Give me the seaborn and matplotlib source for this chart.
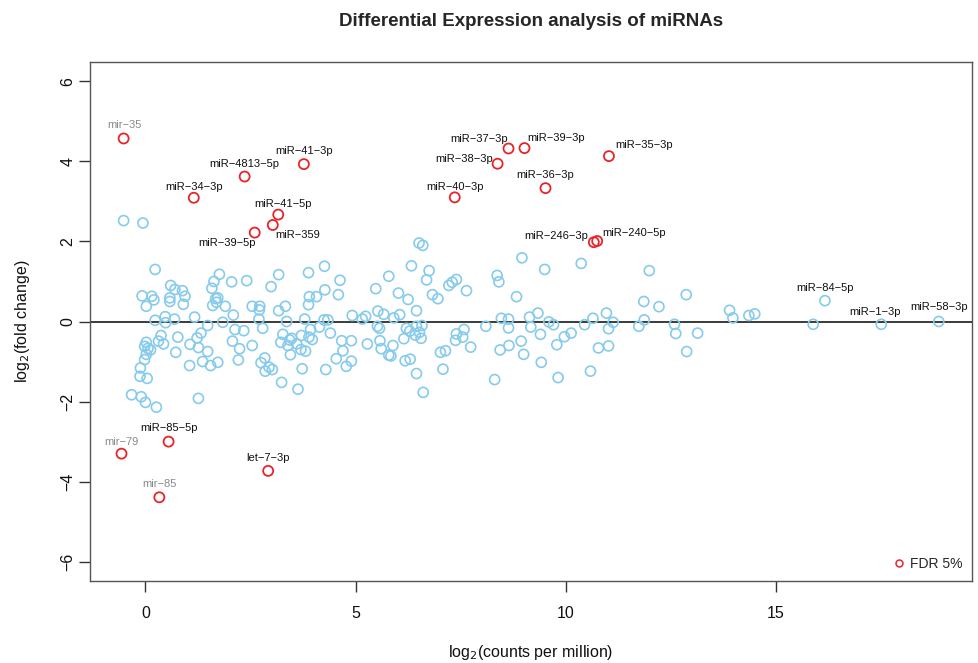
import numpy as np
import pandas as pd
import matplotlib
matplotlib.use("Agg")
import matplotlib.pyplot as plt
from matplotlib.lines import Line2D
import seaborn as sns

# significant miRNAs (FDR 5%)
sig_names = ["mir-35", "miR-41-3p", "miR-4813-5p", "miR-34-3p", "miR-41-5p", "miR-359",
             "miR-39-5p", "miR-37-3p", "miR-39-3p", "miR-38-3p", "miR-35-3p", "miR-36-3p",
             "miR-40-3p", "miR-246-3p", "miR-240-5p", "miR-85-5p", "mir-79", "let-7-3p", "mir-85"]
sig_logcpm = [-0.52, 3.77, 2.36, 1.15, 3.16, 3.03, 2.60, 8.64, 9.02, 8.38, 11.03, 9.52,
              7.36, 10.67, 10.75, 0.55, -0.57, 2.92, 0.33]
sig_logfc = [4.57, 3.93, 3.62, 3.09, 2.67, 2.41, 2.22, 4.32, 4.33, 3.94, 4.13, 3.33,
             3.10, 1.98, 2.01, -3.00, -3.30, -3.73, -4.39]

# labelled, not significant
lab_names = ["miR-84-5p", "miR-1-3p", "miR-58-3p"]
lab_logcpm = [16.17, 17.51, 18.88]
lab_logfc = [0.52, -0.07, 0.00]

# the rest of the miRNAs
other_logcpm = [
    -0.52, -0.06, 0.23, 1.76, 1.63, 2.05, 0.60, 0.70, 0.88, 1.58, -0.08, 0.15, 0.20, 0.58, 0.58,
    0.94, 0.90, 0.02, 1.67, 1.72, 1.69, 1.60, 1.90, 2.09, 0.47, 0.23, 0.48, 0.69, 1.17, 1.48,
    1.84, 2.13, 2.34, 0.37, 0.31, 0.43, 0.77, 1.32, 1.23, 1.06, 1.26, 1.48, 0.72, 0.02, -0.02,
    0.06, 0.12, 0.02, -0.02, -0.12, -0.13, 0.04, 1.05, 1.36, 1.55, 1.72, 2.07, 2.24, 2.21, -0.33,
    -0.10, 0.00, 0.26, 1.26,
    4.26, 3.88, 3.17, 2.41, 2.99, 4.63, 5.79, 4.27, 5.48, 3.90, 4.07, 4.59, 3.88, 2.54, 2.72,
    2.71, 3.33, 3.17, 2.70, 3.36, 3.79, 4.25, 4.34, 4.92, 5.24, 5.16, 5.53, 5.67, 5.52, 5.57,
    2.79, 3.27, 3.93, 4.14, 4.40, 3.71, 3.48, 3.43, 3.89, 3.97, 3.22, 3.60, 3.39, 2.54, 3.70,
    3.81, 3.45, 4.67, 4.90, 5.28, 4.70, 5.58, 5.61, 5.79, 4.54, 4.90, 4.78, 2.84, 2.75, 2.94,
    3.02, 2.85, 3.73, 4.29, 3.24, 3.63,
    6.51, 6.60, 8.96, 6.33, 6.75, 6.69, 8.37, 8.41, 7.40, 7.30, 7.22, 7.64, 6.02, 6.25, 6.83,
    6.96, 8.83, 6.45, 6.05, 5.91, 9.14, 8.47, 8.64, 6.45, 6.58, 6.21, 6.29, 6.52, 6.42, 6.56,
    8.10, 7.58, 7.40, 7.55, 7.38, 8.64, 9.17, 6.15, 5.89, 5.84, 6.18, 6.30, 7.74, 7.02, 7.14,
    8.44, 8.65, 8.94, 9.00, 6.45, 7.08, 8.31, 6.61,
    9.50, 10.37, 11.99, 11.86, 12.22, 9.34, 9.60, 9.71, 9.40, 9.97, 10.13, 9.79, 10.45, 10.65,
    10.97, 11.13, 11.02, 10.78, 11.02, 11.74, 11.87, 12.59, 12.62, 9.42, 10.59, 9.82,
    12.87, 13.14, 12.88, 13.90, 13.98, 14.36, 14.50, 15.89]
other_logfc = [
    2.52, 2.46, 1.30, 1.18, 1.00, 0.99, 0.90, 0.80, 0.77, 0.83, 0.64, 0.63, 0.54, 0.59, 0.50,
    0.63, 0.43, 0.38, 0.57, 0.59, 0.48, 0.40, 0.38, 0.16, 0.12, 0.03, -0.03, 0.06, 0.11, -0.10,
    -0.02, -0.20, -0.23, -0.35, -0.49, -0.56, -0.39, -0.29, -0.41, -0.57, -0.65, -0.75, -0.77, -0.52, -0.62,
    -0.67, -0.71, -0.82, -0.95, -1.16, -1.37, -1.42, -1.10, -1.00, -1.10, -1.02, -0.49, -0.68, -0.96, -1.83,
    -1.88, -2.02, -2.14, -1.92,
    1.38, 1.22, 1.17, 1.02, 0.87, 1.03, 1.13, 0.79, 0.82, 0.62, 0.62, 0.67, 0.42, 0.38, 0.38,
    0.29, 0.38, 0.27, 0.06, 0.00, 0.06, 0.04, 0.04, 0.15, 0.13, 0.06, 0.26, 0.18, -0.12, -0.17,
    -0.17, -0.32, -0.20, -0.14, -0.29, -0.35, -0.42, -0.46, -0.39, -0.45, -0.52, -0.56, -0.60, -0.60, -0.70,
    -0.74, -0.83, -0.48, -0.48, -0.56, -0.73, -0.48, -0.68, -0.84, -0.93, -0.99, -1.12, -0.91, -1.03, -1.14,
    -1.20, -1.24, -1.18, -1.20, -1.52, -1.69,
    1.96, 1.90, 1.59, 1.39, 1.27, 1.04, 1.15, 0.99, 1.05, 0.98, 0.90, 0.77, 0.71, 0.55, 0.67,
    0.57, 0.62, 0.27, 0.17, 0.09, 0.11, 0.08, 0.06, -0.12, -0.10, -0.17, -0.24, -0.27, -0.34, -0.42,
    -0.12, -0.20, -0.31, -0.39, -0.47, -0.16, -0.14, -0.43, -0.60, -0.86, -0.98, -0.94, -0.64, -0.77, -0.73,
    -0.71, -0.60, -0.49, -0.82, -1.30, -1.19, -1.45, -1.77,
    1.30, 1.45, 1.27, 0.50, 0.37, 0.21, -0.01, -0.08, -0.32, -0.38, -0.29, -0.58, -0.08, 0.08,
    0.21, -0.02, -0.18, -0.66, -0.61, -0.12, 0.04, -0.07, -0.30, -1.02, -1.24, -1.40,
    0.67, -0.29, -0.75, 0.28, 0.09, 0.15, 0.19, -0.07]

# label offsets in pixels (dx, dy)
sig_offsets = [(1, 13), (0, 13), (0, 13), (0, 11), (5, 11), (25, -10), (-28, -10),
               (-29, 10), (32, 10), (-33, 5), (35, 11), (0, 13), (0, 10), (-38, 6), (37, 8),
               (0, 14), (0, 12), (0, 13), (0, 13)]
lab_offsets = [(0, 13), (-6, 12), (0, 14)]

blue = "#86cbec"
red = "#e8242a"

sig = pd.DataFrame({"logCPM": sig_logcpm, "logFC": sig_logfc, "name": sig_names})
lab = pd.DataFrame({"logCPM": lab_logcpm, "logFC": lab_logfc, "name": lab_names})
rest = pd.DataFrame({"logCPM": other_logcpm, "logFC": other_logfc})
nonsig = pd.concat([rest, lab[["logCPM", "logFC"]]], ignore_index=True)

sns.set_theme(style="ticks")
plt.rcParams["font.family"] = ["Liberation Sans", "DejaVu Sans"]

fig = plt.figure(figsize=(9.79, 6.63), dpi=100)
ax = fig.add_axes([90 / 979, 1 - 581 / 663, 882 / 979, 519 / 663])

ax.axhline(0, color="#3a3a3a", lw=1.4, zorder=1)

sns.scatterplot(data=nonsig, x="logCPM", y="logFC", color=blue, s=52, linewidth=1.2, ax=ax, zorder=2)
sns.scatterplot(data=sig, x="logCPM", y="logFC", color=red, s=52, linewidth=1.3, ax=ax, zorder=3)
for coll, col in zip(ax.collections, [blue, red]):
    coll.set_facecolor("none")
    coll.set_edgecolor(col)

for (_, r), off in zip(sig.iterrows(), sig_offsets):
    col = "#8a8a8a" if r["name"].startswith("mir") else "#111111"
    ax.annotate(r["name"].replace("-", "\u2212"), (r["logCPM"], r["logFC"]), xytext=off,
                textcoords="offset pixels", ha="center", va="center", fontsize=8, color=col)
for (_, r), off in zip(lab.iterrows(), lab_offsets):
    ax.annotate(r["name"].replace("-", "\u2212"), (r["logCPM"], r["logFC"]), xytext=off,
                textcoords="offset pixels", ha="center", va="center", fontsize=8, color="#111111")

ax.set_xlim(-1.32, 19.67)
ax.set_ylim(-6.48, 6.48)
ax.set_xticks([0, 5, 10, 15])
ax.set_yticks([-6, -4, -2, 0, 2, 4, 6])
ax.tick_params(direction="out", length=7.7, width=1, color="#333333", labelsize=11.5, labelcolor="#111111")
ax.tick_params(axis="x", pad=10)
ax.tick_params(axis="y", pad=3)
for t in ax.get_yticklabels():
    t.set_rotation(90)
    t.set_va("center")
for sp in ax.spines.values():
    sp.set_color("#555555")
    sp.set_linewidth(1)

ax.set_xlabel(r"log$_2$(counts per million)", fontsize=11.5, color="#111111")
ax.set_ylabel(r"log$_2$(fold change)", fontsize=11.5, color="#111111")
ax.xaxis.set_label_coords(0.5, -0.137)
ax.xaxis.label.set_va("center")
ax.yaxis.set_label_coords(-0.077, 0.5)
ax.yaxis.label.set_va("center")

ax.set_title("Differential Expression analysis of miRNAs", fontsize=13.5, fontweight="bold", pad=26)

handle = Line2D([], [], marker="o", ls="none", mfc="none", mec=red, ms=5, mew=1.1)
ax.legend([handle], ["FDR 5%"], loc="lower right", frameon=False, fontsize=10,
          handletextpad=0.3, borderaxespad=0.3, handlelength=1.0)

fig.savefig("out.png", dpi=100)
